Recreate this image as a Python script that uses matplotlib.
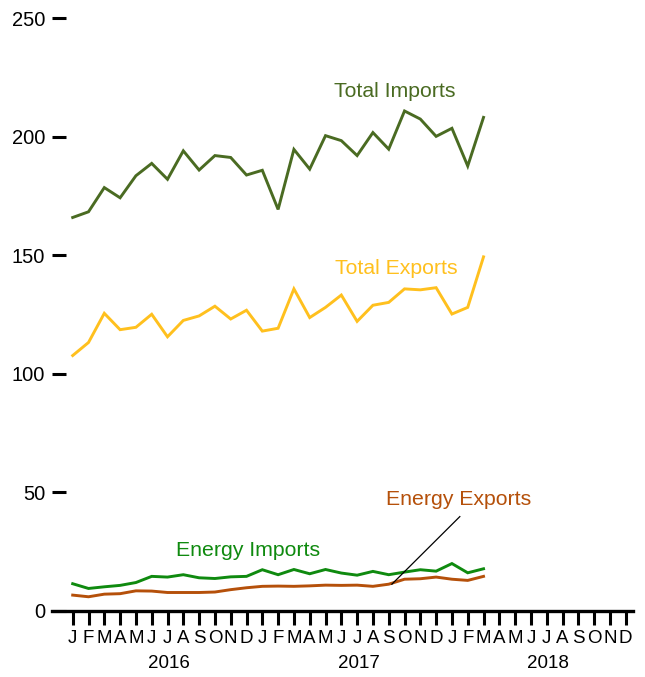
import numpy as np
import matplotlib.pyplot as plt

plt.rcParams['font.family'] = ['Liberation Sans', 'DejaVu Sans']

# monthly values, Jan 2016 - Mar 2018 (billions)
total_imports = [165.9, 168.3, 178.5, 174.2, 183.5, 188.7, 182.0, 194.0, 185.9, 192.0, 191.2, 183.8,
                 185.8, 169.3, 194.6, 186.3, 200.4, 198.3, 192.0, 201.7, 194.7, 210.8, 207.4, 200.1,
                 203.5, 187.6, 208.1]
total_exports = [107.7, 113.2, 125.5, 118.6, 119.6, 125.1, 115.6, 122.5, 124.4, 128.5, 123.1, 126.8,
                 118.0, 119.2, 135.8, 123.7, 128.0, 133.2, 122.1, 128.9, 130.1, 135.8, 135.4, 136.3,
                 125.2, 128.0, 149.3]
energy_imports = [11.5, 9.5, 10.2, 10.8, 12.0, 14.6, 14.3, 15.3, 14.0, 13.7, 14.4, 14.6,
                  17.4, 15.3, 17.5, 15.7, 17.5, 16.0, 15.1, 16.7, 15.3, 16.4, 17.4, 16.8,
                  20.0, 16.1, 17.8]
energy_exports = [6.7, 6.0, 7.1, 7.3, 8.5, 8.4, 7.8, 7.8, 7.8, 8.0, 9.0, 9.8,
                  10.4, 10.5, 10.4, 10.6, 10.9, 10.8, 10.9, 10.4, 11.3, 13.4, 13.6, 14.3,
                  13.4, 12.9, 14.6]

month_letters = ['J', 'F', 'M', 'A', 'M', 'J', 'J', 'A', 'S', 'O', 'N', 'D']
years = ['2016', '2017', '2018']

c_ti = '#4A6B22'
c_te = '#FFC01E'
c_ei = '#0F8A0F'
c_ee = '#B5500A'

fig = plt.figure(figsize=(6.45, 6.77), dpi=100)
ax = fig.add_axes([52/645, (677-611)/677, (633-52)/645, (611-18)/677])

x = np.arange(len(total_imports))
ax.plot(x, total_imports, color=c_ti, lw=2.1, solid_joinstyle='miter')
ax.plot(x, total_exports, color=c_te, lw=2.1, solid_joinstyle='miter')
ax.plot(x, energy_imports, color=c_ei, lw=2.1, solid_joinstyle='miter')
ax.plot(x, energy_exports, color=c_ee, lw=2.1, solid_joinstyle='miter')

# series labels
ax.text(20.4, 219.2, 'Total Imports', color=c_ti, fontsize=15.3, ha='center', va='center')
ax.text(20.5, 144.6, 'Total Exports', color=c_te, fontsize=15.3, ha='center', va='center')
ax.text(11.1, 25.3, 'Energy Imports', color=c_ei, fontsize=15.3, ha='center', va='center')
ax.text(24.45, 47.2, 'Energy Exports', color=c_ee, fontsize=15.3, ha='center', va='center')
ax.plot([20.2, 24.5], [energy_exports[20], 39.8], color='black', lw=0.9)

ax.set_xlim(-1.31, 35.46)
ax.set_ylim(0, 250)

for s in ['top', 'right', 'left']:
    ax.spines[s].set_visible(False)
ax.spines['bottom'].set_linewidth(2.4)

ax.set_yticks([0, 50, 100, 150, 200, 250])
ax.tick_params(axis='y', direction='in', length=10, width=2.2, labelsize=14.5, pad=5)

n_months = 12 * len(years)
ax.set_xticks(np.arange(n_months))
ax.set_xticklabels(month_letters * len(years))
ax.tick_params(axis='x', direction='out', length=10, width=2.2, labelsize=13.5, pad=4)

for k, yr in enumerate(years):
    ax.text(12 * k + 6.1, -22, yr, fontsize=13.5, ha='center', va='center')

fig.savefig('out.png', dpi=100)
